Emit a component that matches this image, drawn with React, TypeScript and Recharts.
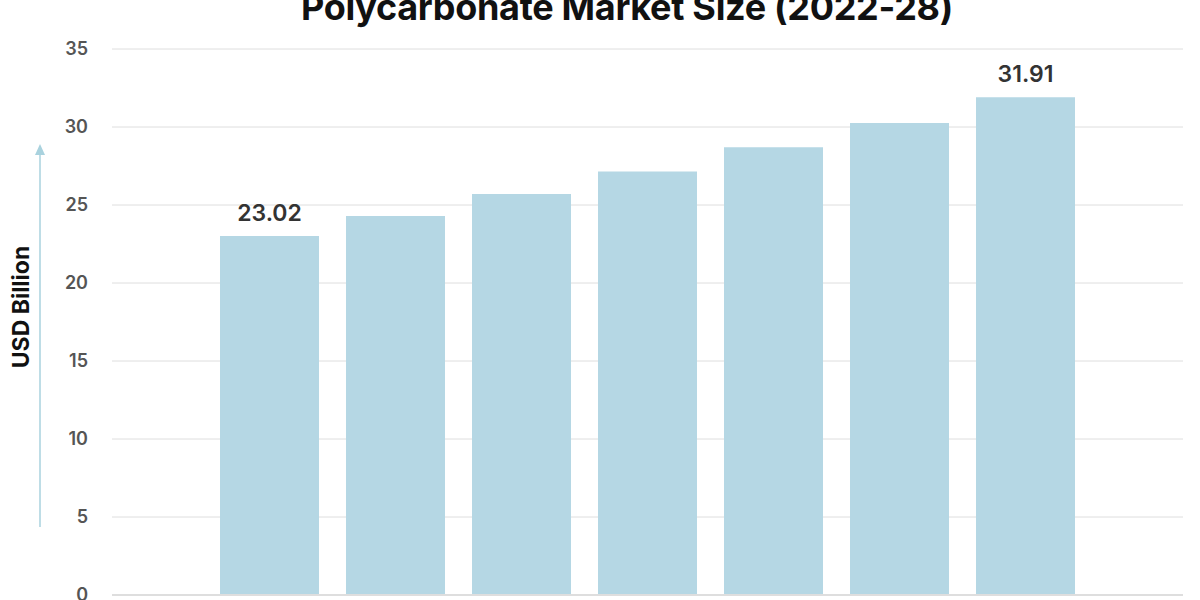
import React from 'react';
import { BarChart, Bar, XAxis, YAxis, CartesianGrid, LabelList } from 'recharts';

// Polycarbonate market size, USD billion
const years = ['2022', '2023', '2024', '2025', '2026', '2027', '2028'];
const marketSize = [23.02, 24.3, 25.7, 27.15, 28.7, 30.25, 31.91];
const valueLabels = ['23.02', '', '', '', '', '', '31.91'];
const yTicks = [0, 5, 10, 15, 20, 25, 30, 35];

const data = years.map((year, i) => ({
  year,
  value: marketSize[i],
  label: valueLabels[i],
}));

const FONT = 'Inter, "Open Sans", sans-serif';

export default function App() {
  return (
    <div style={{ position: 'absolute', left: 0, top: 0, width: 1200, height: 600, overflow: 'hidden', background: '#fff', fontFamily: FONT }}>
      <div
        style={{
          position: 'absolute',
          top: -15,
          left: 0,
          width: 1254,
          textAlign: 'center',
          fontSize: 36,
          fontWeight: 700,
          color: '#111',
          letterSpacing: -0.3,
          whiteSpace: 'nowrap',
        }}
      >
        Polycarbonate Market Size (2022-28)
      </div>

      <BarChart
        width={1200}
        height={600}
        data={data}
        margin={{ top: 49, right: 17, left: 0, bottom: 0 }}
      >
        <CartesianGrid horizontal vertical={false} stroke="#dedede" />
        <XAxis
          dataKey="year"
          height={5}
          tick={false}
          tickLine={false}
          axisLine={{ stroke: '#dedede', strokeWidth: 2 }}
          padding={{ left: 94, right: 95 }}
        />
        <YAxis
          domain={[0, 35]}
          ticks={yTicks}
          interval={0}
          width={112}
          tickSize={0}
          tickMargin={24}
          axisLine={false}
          tickLine={false}
          tick={{ fill: '#555', fontSize: 18, fontWeight: 600, fontFamily: FONT }}
        />
        <Bar dataKey="value" fill="#b5d7e4" barSize={99} isAnimationActive={false}>
          <LabelList
            dataKey="label"
            position="top"
            offset={15}
            style={{ fill: '#333', fontSize: 23, fontWeight: 600, fontFamily: FONT }}
          />
        </Bar>
      </BarChart>

      <svg width={80} height={600} style={{ position: 'absolute', left: 0, top: 0 }}>
        <line x1={40} y1={527} x2={40} y2={152} stroke="#a9d2de" strokeWidth={1.5} />
        <polygon points="35,155 45,155 40,144" fill="#a9d2de" />
        <text
          x={21}
          y={307}
          transform="rotate(-90 21 307)"
          textAnchor="middle"
          dominantBaseline="central"
          fontSize={23}
          fontWeight={700}
          fill="#111"
          fontFamily={FONT}
        >
          USD Billion
        </text>
      </svg>
    </div>
  );
}
